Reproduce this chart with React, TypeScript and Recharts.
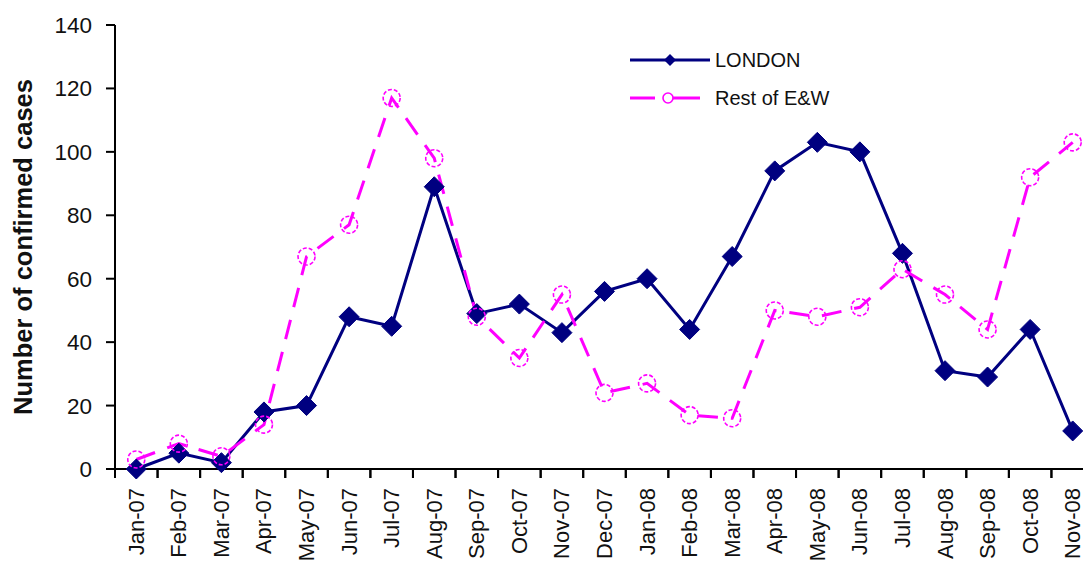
import { LineChart, Line, XAxis, YAxis, Legend, Label } from "recharts";

const months = [
  "Jan-07", "Feb-07", "Mar-07", "Apr-07", "May-07", "Jun-07", "Jul-07", "Aug-07",
  "Sep-07", "Oct-07", "Nov-07", "Dec-07", "Jan-08", "Feb-08", "Mar-08", "Apr-08",
  "May-08", "Jun-08", "Jul-08", "Aug-08", "Sep-08", "Oct-08", "Nov-08",
];
const london = [0, 5, 2, 18, 20, 48, 45, 89, 49, 52, 43, 56, 60, 44, 67, 94, 103, 100, 68, 31, 29, 44, 12];
const restOfEW = [3, 8, 4, 14, 67, 77, 117, 98, 48, 35, 55, 24, 27, 17, 16, 50, 48, 51, 63, 55, 44, 92, 103];
const yTicks = [0, 20, 40, 60, 80, 100, 120, 140];

const data = months.map((month, i) => ({ month, london: london[i], rest: restOfEW[i] }));

const NAVY = "#000080";
const MAGENTA = "#FF00FF";
const FONT = "'Liberation Sans', Arial, sans-serif";

const Diamond = (props: any) => {
  const { cx, cy, index } = props;
  if (cx == null || cy == null) return null;
  const r = 10;
  return (
    <polygon
      key={`d-${index}`}
      points={`${cx},${cy - r} ${cx + r},${cy} ${cx},${cy + r} ${cx - r},${cy}`}
      fill={NAVY}
      stroke={NAVY}
      strokeWidth={1}
    />
  );
};

const Ring = (props: any) => {
  const { cx, cy, index } = props;
  if (cx == null || cy == null) return null;
  return (
    <circle
      key={`c-${index}`}
      cx={cx}
      cy={cy}
      r={8.5}
      fill="none"
      stroke={MAGENTA}
      strokeWidth={1.6}
      strokeDasharray="4 2"
    />
  );
};

const MonthTick = (props: any) => {
  const { x, y, payload } = props;
  const half = payload.offset ?? 21.27;
  const ty = y + 19;
  return (
    <g>
      <line x1={x - half} y1={y} x2={x - half} y2={y + 9} stroke="#000" strokeWidth={2} />
      <line x1={x + half} y1={y} x2={x + half} y2={y + 9} stroke="#000" strokeWidth={2} />
      <text
        x={x}
        y={ty}
        transform={`rotate(-90 ${x} ${ty})`}
        textAnchor="end"
        dominantBaseline="central"
        fontSize={22}
        fontFamily={FONT}
        fill="#111"
      >
        {payload.value}
      </text>
    </g>
  );
};

const renderLegend = () => (
  <svg width={250} height={70} style={{ display: "block" }}>
    <line x1={2} y1={18} x2={82} y2={18} stroke={NAVY} strokeWidth={3} />
    <polygon points="42,12 48,18 42,24 36,18" fill={NAVY} />
    <text x={87} y={18} dominantBaseline="central" fontSize={20} fontFamily={FONT} fill="#111">
      LONDON
    </text>
    <line x1={2} y1={56} x2={27} y2={56} stroke={MAGENTA} strokeWidth={3} />
    <line x1={45} y1={56} x2={72} y2={56} stroke={MAGENTA} strokeWidth={3} />
    <circle cx={40} cy={56} r={5} fill="#fff" stroke={MAGENTA} strokeWidth={1.6} />
    <text x={87} y={56} dominantBaseline="central" fontSize={20} fontFamily={FONT} fill="#111">
      Rest of E&amp;W
    </text>
  </svg>
);

export default function App() {
  return (
    <div
      style={{
        position: "absolute",
        left: 0,
        top: 0,
        width: 1083,
        height: 565,
        overflow: "hidden",
        background: "#fff",
      }}
    >
      <LineChart
        width={1094}
        height={565}
        data={data}
        margin={{ top: 25, right: 0, bottom: 0, left: 0 }}
      >
        <XAxis
          dataKey="month"
          scale="band"
          interval={0}
          height={96}
          tickSize={0}
          tickMargin={0}
          tick={<MonthTick />}
          axisLine={{ stroke: "#000", strokeWidth: 2 }}
          tickLine={false}
        />
        <YAxis
          domain={[0, 140]}
          ticks={yTicks}
          width={115}
          tickSize={9}
          tickMargin={14}
          tick={{ fontSize: 22.5, fontFamily: FONT, fill: "#111" }}
          axisLine={{ stroke: "#000", strokeWidth: 2 }}
          tickLine={{ stroke: "#000", strokeWidth: 2 }}
        >
          <Label
            content={({ viewBox }: any) => {
              const cx = (viewBox?.x ?? 0) + 23;
              const cy = (viewBox?.y ?? 25) + (viewBox?.height ?? 444) / 2;
              return (
                <text
                  x={cx}
                  y={cy}
                  transform={`rotate(-90 ${cx} ${cy})`}
                  textAnchor="middle"
                  dominantBaseline="central"
                  fontSize={25.5}
                  fontWeight="bold"
                  fontFamily={FONT}
                  fill="#111"
                >
                  Number of confirmed cases
                </text>
              );
            }}
          />
        </YAxis>
        <Legend
          layout="horizontal"
          verticalAlign="middle"
          align="center"
          content={renderLegend}
          wrapperStyle={{ position: "absolute", left: 628, top: 42, width: 250, height: 70 }}
        />
        <Line
          type="linear"
          dataKey="london"
          name="LONDON"
          stroke={NAVY}
          strokeWidth={3}
          dot={<Diamond />}
          activeDot={false}
          isAnimationActive={false}
        />
        <Line
          type="linear"
          dataKey="rest"
          name="Rest of E&W"
          stroke={MAGENTA}
          strokeWidth={3}
          strokeDasharray="20 13"
          dot={<Ring />}
          activeDot={false}
          isAnimationActive={false}
        />
      </LineChart>
    </div>
  );
}
